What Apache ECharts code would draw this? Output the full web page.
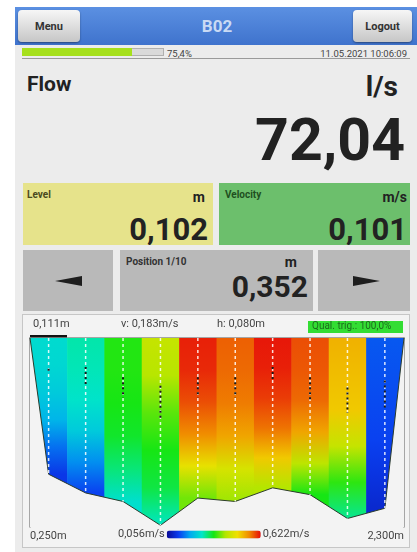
<!DOCTYPE html>
<html>
<head>
<meta charset="utf-8">
<script src="https://cdn.jsdelivr.net/npm/echarts@6/dist/echarts.min.js"></script>
<style>
  body { margin: 0; background: #fff; font-family: Roboto, 'Liberation Sans', sans-serif; color: #222; }
  .abs { position: absolute; }
  #app { left: 15px; top: 7px; width: 402px; height: 545px; background: #ececec; }
  #bar { left: 15px; top: 7px; width: 402px; height: 38px; background: linear-gradient(#5b90e2, #3f73cd); }
  .btn { top: 10px; height: 32px; border-radius: 4px; background: linear-gradient(#f6f6f6, #c6c6c6);
         box-shadow: 0 1px 2px rgba(0,0,0,0.4); font-weight: bold; font-size: 11px; color: #333;
         display: flex; align-items: center; justify-content: center; }
  #title { left: 150px; top: 10px; width: 134px; height: 32px; line-height: 32px; text-align: center;
           color: #c9daf4; font-weight: bold; font-size: 17px; }
  #track { left: 22px; top: 48px; width: 142px; height: 8px; background: #dadada; border: 1px solid #b0b0b0; box-sizing: border-box; }
  #fill { left: 22px; top: 48px; width: 110px; height: 8px; background: #a6e01c; }
  .small { font-size: 9.5px; color: #444; line-height: 1; }
  #rule { left: 22px; top: 58px; width: 388px; height: 1px; background: #9a9a9a; }
  .box { overflow: hidden; }
  .lbl { position: absolute; left: 4px; top: 7px; font-size: 10px; font-weight: bold; line-height: 1; }
  .unit { position: absolute; font-size: 14px; font-weight: bold; line-height: 1; }
  .val { position: absolute; font-size: 31px; font-weight: bold; line-height: 1; }
  .tri-l { width: 0; height: 0; border-top: 5px solid transparent; border-bottom: 5px solid transparent; border-right: 27px solid #1e1e1e; }
  .tri-r { width: 0; height: 0; border-top: 5px solid transparent; border-bottom: 5px solid transparent; border-left: 27px solid #1e1e1e; }
  #panel { left: 22px; top: 314px; width: 388px; height: 234px; background: #f3f3f3; border: 1px solid #c6c6c6; box-sizing: border-box; }
  #chart { left: 22px; top: 315px; width: 388px; height: 233px; }
</style>
</head>
<body>
<div id="app" class="abs"></div>
<div id="bar" class="abs"></div>
<div class="abs btn" style="left:18px;width:62px;">Menu</div>
<div id="title" class="abs">B02</div>
<div class="abs btn" style="left:353px;width:59px;">Logout</div>

<div id="track" class="abs"></div>
<div id="fill" class="abs"></div>
<div class="abs small" style="left:167px;top:49px;">75,4%</div>
<div class="abs small" style="right:10px;top:49px;">11.05.2021 10:06:09</div>
<div id="rule" class="abs"></div>

<div class="abs" style="left:27px;top:74px;font-size:21px;font-weight:bold;line-height:1;">Flow</div>
<div class="abs" style="right:19px;top:73px;font-size:28px;font-weight:bold;line-height:1;">l/s</div>
<div class="abs" style="right:12px;top:110px;font-size:59px;font-weight:bold;line-height:1;">72,04</div>

<div class="abs box" style="left:23px;top:183px;width:190px;height:62px;background:#e6e38b;">
  <div class="lbl" style="color:#4a4a20;">Level</div>
  <div class="unit" style="right:8px;top:7px;">m</div>
  <div class="val" style="right:5px;top:31px;">0,102</div>
</div>
<div class="abs box" style="left:219px;top:183px;width:191px;height:62px;background:#6cbf6c;">
  <div class="lbl" style="left:6px;color:#1f4f1f;">Velocity</div>
  <div class="unit" style="right:3px;top:7px;">m/s</div>
  <div class="val" style="right:3px;top:31px;">0,101</div>
</div>

<div class="abs" style="left:23px;top:250px;width:90px;height:61px;background:#b9b9b9;"></div>
<div class="abs tri-l" style="left:55px;top:276px;"></div>
<div class="abs box" style="left:120px;top:250px;width:193px;height:61px;background:#b9b9b9;">
  <div class="lbl" style="left:6px;color:#333;">Position 1/10</div>
  <div class="unit" style="right:16px;top:5px;">m</div>
  <div class="val" style="right:5px;top:22px;font-size:30px;">0,352</div>
</div>
<div class="abs" style="left:318px;top:250px;width:92px;height:61px;background:#b9b9b9;"></div>
<div class="abs tri-r" style="left:353px;top:276px;"></div>

<div id="panel" class="abs"></div>
<div id="chart" class="abs"></div>

<script>
// cross section, x = position in m, y = depth below surface in m
const xMin = 0.25;
const xMax = 2.30;
const depthMax = 0.111;
const verticalX = [0.352, 0.555, 0.760, 0.965, 1.170, 1.375, 1.580, 1.785, 1.990, 2.195];
const bedDepth = [0.080, 0.091, 0.096, 0.110, 0.094, 0.096, 0.088, 0.092, 0.106, 0.100];
const windowTop = [0.018, 0.017, 0.023, 0.028, 0.023, 0.023, 0.017, 0.023, 0.029, 0.025];
const windowBottom = [0.021, 0.028, 0.035, 0.048, 0.035, 0.035, 0.025, 0.036, 0.044, 0.041];
// velocity (m/s) per vertical, surface -> bed
const velocityProfiles = [
  [0.255, 0.250, 0.235, 0.210, 0.160, 0.120],
  [0.280, 0.275, 0.265, 0.235, 0.180, 0.130],
  [0.345, 0.345, 0.340, 0.330, 0.300, 0.260],
  [0.430, 0.415, 0.370, 0.340, 0.320, 0.270],
  [0.610, 0.605, 0.585, 0.550, 0.470, 0.380],
  [0.575, 0.570, 0.560, 0.530, 0.450, 0.400],
  [0.615, 0.610, 0.595, 0.565, 0.500, 0.410],
  [0.585, 0.580, 0.570, 0.530, 0.420, 0.340],
  [0.520, 0.510, 0.500, 0.430, 0.350, 0.290],
  [0.145, 0.140, 0.135, 0.130, 0.115, 0.100]
];
const vMin = 0.056;
const vMax = 0.622;
const velocityColors = ['#0a0a96', '#0a3cf0', '#00aaf0', '#00e6c8', '#14e614', '#b4e600', '#f0e000', '#f08c00', '#e60a0a'];
const panelBg = '#f3f3f3';

const fmt = v => v.toFixed(3).replace('.', ',') + 'm';
const colorOf = v => echarts.color.lerp((v - vMin) / (vMax - vMin), velocityColors);

const bedLine = [[xMin, 0]].concat(verticalX.map((x, i) => [x, bedDepth[i]]), [[xMax, 0]]);
const verticals = verticalX.map((x, i) => [x, bedDepth[i], i, velocityProfiles[i][0]]);

const chart = echarts.init(document.getElementById('chart'));

chart.setOption({
  animation: false,
  grid: { left: 8, right: 6, top: 23, bottom: 21 },
  xAxis: {
    type: 'value', min: xMin, max: xMax, interval: 0.05,
    axisLine: { lineStyle: { color: '#8c8c8c', width: 1.5 } },
    axisTick: { show: false },
    splitLine: { show: false },
    axisLabel: {
      margin: 4, fontSize: 11, color: '#444', fontFamily: 'Roboto',
      alignMinLabel: 'left', alignMaxLabel: 'right',
      formatter: v => (Math.abs(v - xMin) < 1e-6 || Math.abs(v - xMax) < 1e-6) ? fmt(v) : ''
    }
  },
  yAxis: [
    { type: 'value', min: 0, max: depthMax, inverse: true,
      axisLine: { show: true, lineStyle: { color: '#8c8c8c', width: 1.5 } },
      axisTick: { show: false }, axisLabel: { show: false }, splitLine: { show: false } },
    { type: 'value', min: 0, max: depthMax, inverse: true, position: 'right',
      axisLine: { show: true, lineStyle: { color: '#8c8c8c', width: 1.5 } },
      axisTick: { show: false }, axisLabel: { show: false }, splitLine: { show: false } }
  ],
  visualMap: {
    type: 'continuous', orient: 'horizontal', min: vMin, max: vMax,
    seriesIndex: 0, dimension: 3, calculable: false, hoverLink: false,
    left: 96, top: 214, padding: 0, itemWidth: 8, itemHeight: 94, textGap: 2,
    text: ['0,622m/s', '0,056m/s'],
    textStyle: { color: '#444', fontSize: 11, fontFamily: 'Roboto' },
    inRange: { color: velocityColors }
  },
  graphic: [
    { type: 'rect', left: 8, top: 20, shape: { width: 37, height: 3 }, style: { fill: '#111' } },
    { type: 'text', left: 11, top: 4, style: { text: '0,111m', fill: '#444', font: '11px Roboto' } },
    { type: 'text', left: 99, top: 4, style: { text: 'v: 0,183m/s', fill: '#444', font: '11px Roboto' } },
    { type: 'text', left: 195, top: 4, style: { text: 'h: 0,080m', fill: '#444', font: '11px Roboto' } },
    { type: 'rect', left: 286, top: 6, shape: { width: 95, height: 12 }, style: { fill: '#33dd33' } },
    { type: 'text', left: 290, top: 6, style: { text: 'Qual. trig.: 100,0%', fill: '#1d6b1d', font: '10px Roboto' } }
  ],
  series: [
    {
      type: 'custom', z: 1, clip: true, silent: true,
      data: verticals,
      encode: { x: 0, y: 1 },
      renderItem: (params, api) => {
        const i = api.value(2);
        const x = verticalX[i];
        const left = i === 0 ? xMin : (verticalX[i - 1] + x) / 2;
        const right = i === verticalX.length - 1 ? xMax : (x + verticalX[i + 1]) / 2;
        const p0 = api.coord([left, 0]);
        const p1 = api.coord([right, depthMax]);
        const prof = velocityProfiles[i];
        const stops = prof.map((v, k) => ({
          offset: (k / (prof.length - 1)) * bedDepth[i] / depthMax,
          color: colorOf(v)
        }));
        stops.push({ offset: 1, color: colorOf(prof[prof.length - 1]) });
        return {
          type: 'rect',
          shape: { x: p0[0], y: p0[1], width: p1[0] - p0[0] + 0.6, height: p1[1] - p0[1] },
          style: { fill: new echarts.graphic.LinearGradient(0, 0, 0, 1, stops) }
        };
      }
    },
    {
      type: 'line', z: 3, silent: true,
      data: bedLine,
      symbol: 'none',
      lineStyle: { color: '#2b3b2b', width: 1 },
      areaStyle: { color: panelBg, opacity: 1, origin: 'end' }
    },
    {
      type: 'custom', z: 4, clip: true, silent: true,
      data: verticals,
      encode: { x: 0, y: 1 },
      renderItem: (params, api) => {
        const i = api.value(2);
        const top = api.coord([verticalX[i], 0]);
        const bot = api.coord([verticalX[i], bedDepth[i]]);
        const w0 = api.coord([verticalX[i], windowTop[i]]);
        const w1 = api.coord([verticalX[i], windowBottom[i]]);
        return {
          type: 'group',
          children: [
            { type: 'line', shape: { x1: top[0], y1: top[1], x2: bot[0], y2: bot[1] },
              style: { stroke: 'rgba(255,255,255,0.85)', lineWidth: 1.5, lineDash: [3, 3] } },
            { type: 'line', shape: { x1: w0[0], y1: w0[1], x2: w1[0], y2: w1[1] },
              style: { stroke: '#1a1a1a', lineWidth: 2, lineDash: [2, 3] } }
          ]
        };
      }
    }
  ]
});
</script>
</body>
</html>
